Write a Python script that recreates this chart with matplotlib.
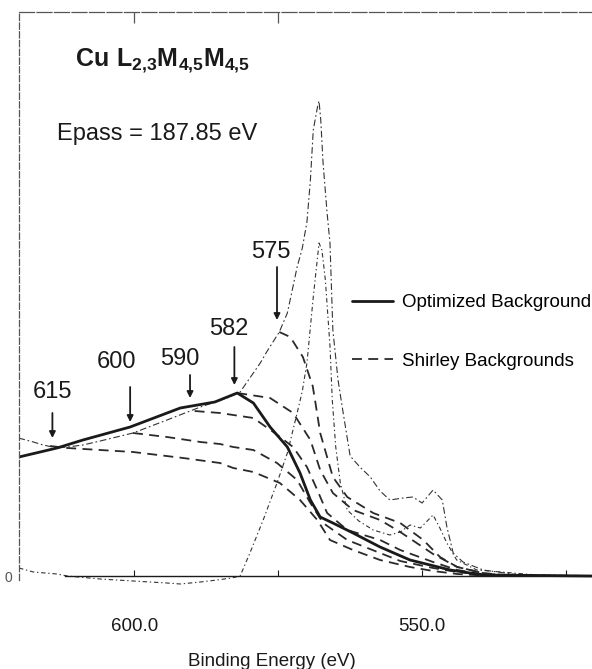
import numpy as np
import matplotlib
matplotlib.use("Agg")
import matplotlib.pyplot as plt

plt.rcParams['font.family'] = ['Liberation Sans', 'DejaVu Sans']
plt.rcParams['mathtext.fontset'] = 'custom'
plt.rcParams['mathtext.rm'] = 'Liberation Sans'
plt.rcParams['mathtext.bf'] = 'Liberation Sans:bold'

# ---------------- data (binding energy in eV, intensity in arb. units) -------------
spec_E = [620.1, 617.5, 615.8, 613.4, 611.6, 608.9, 605.9, 600.2, 594.3, 588.5,
          583.9, 581.6, 578.1, 577.0, 574.8, 573.4, 571.7, 570.8, 570.0, 569.4,
          568.9, 568.2, 567.9, 567.6, 567.2, 566.5, 566.0, 565.5, 564.6, 563.9,
          562.5, 560.8, 559.0, 557.3, 555.6, 553.3, 551.6, 550.0, 548.1, 546.5,
          545.7, 544.6, 542.9, 539.4, 533.0, 520.5]
spec_I = [138, 134, 131, 128, 129, 131, 135, 143, 156, 169,
          178, 184, 213, 224, 244, 263, 309, 328, 354, 396,
          446, 468, 475, 456, 413, 363, 333, 246, 196, 170,
          120, 109, 99, 85, 76, 78, 79, 73, 86, 76,
          49, 23, 14, 6, 1, 0]

sub_E = [620.0, 617.5, 613.4, 611.6, 605.9, 600.2, 594.3, 592.0, 588.5, 585.6,
         583.1, 581.6, 579.9, 577.6, 575.2, 573.4, 571.7, 570.8, 570.0, 568.9,
         567.9, 567.4, 566.8, 566.0, 565.6, 565.0, 564.2, 563.0, 561.0, 558.5,
         555.6, 553.8, 552.1, 550.3, 548.1, 547.0, 545.7, 544.0, 540.5, 530.0, 520.5]
sub_I = [8, 4, 2, 0, -3, -5, -7, -8, -6, -4,
         -2, 0, 23, 56, 93, 123, 163, 185, 213, 279,
         333, 326, 296, 230, 176, 129, 93, 66, 55, 46,
         41, 44, 51, 48, 61, 49, 33, 16, 6, 1, 0]

opt_E = [620.0, 613.4, 608.9, 600.7, 592.0, 586.0, 582.1, 579.3, 576.4, 573.4,
         571.2, 569.4, 567.7, 565.5, 562.0, 557.3, 552.1, 545.1, 539.4, 520.5]
opt_I = [119, 128, 136, 149, 168, 174, 183, 173, 149, 129,
         103, 76, 59, 53, 43, 29, 16, 6, 1, 0]

sh575_E = [574.8, 572.9, 570.7, 569.0, 568.6, 567.7, 565.5, 563.0, 558.5, 553.8,
           549.8, 546.9, 543.9, 539.4, 534.0, 520.5]
sh575_I = [244, 239, 219, 190, 176, 143, 99, 79, 63, 53,
           36, 19, 9, 3, 0, 0]

sh582_E = [582.1, 576.4, 572.4, 569.4, 567.7, 565.5, 562.0, 557.3, 553.8, 548.1,
           543.9, 538.7, 532.0, 520.5]
sh582_I = [183, 178, 163, 136, 106, 83, 66, 56, 44, 22,
           9, 2, 0, 0]

sh590_E = [589.5, 585.1, 582.8, 579.3, 575.6, 572.4, 570.0, 568.2, 566.5, 563.0,
           557.3, 553.8, 548.1, 543.9, 538.7, 532.0, 520.5]
sh590_I = [165, 163, 161, 158, 143, 129, 109, 86, 63, 46,
           36, 26, 14, 6, 1, 0, 0]

sh600_E = [600.2, 594.3, 588.5, 585.1, 582.8, 579.3, 575.2, 571.7, 569.4, 567.2,
           563.0, 557.3, 553.8, 548.1, 543.9, 538.7, 520.5]
sh600_I = [143, 139, 134, 132, 129, 126, 113, 96, 73, 53,
           36, 23, 15, 8, 4, 1, 0]

sh615_E = [614.6, 611.6, 600.2, 591.5, 585.1, 582.8, 579.3, 574.7, 571.2, 568.2,
           566.0, 562.0, 557.3, 552.1, 548.1, 543.9, 538.0, 520.5]
sh615_I = [130, 128, 124, 118, 113, 108, 104, 93, 76, 56,
           36, 26, 16, 9, 5, 2, 0, 0]

start_labels = ['615', '600', '590', '582', '575']
start_E = [614.2, 600.7, 590.3, 582.6, 575.2]

tick_E = [600, 575, 550, 525]
tick_labels = ['600.0', '', '550.0', '']

# ---------------- figure ----------------
W, H = 592, 669
fig = plt.figure(figsize=(W / 100, H / 100), dpi=100)
ax = fig.add_axes([19 / W, 1 - 590 / H, 1 - 19 / W, (590 - 12) / H])
ax.set_xlim(620.0, 520.5)
ax.set_ylim(-14, 564)

ink = '#1a1a1a'
ax.plot(spec_E, spec_I, color='#333333', lw=0.8, ls=(0, (6, 2.5, 1.5, 2.5)))
ax.plot(sub_E, sub_I, color='#333333', lw=0.8, ls=(0, (4, 2.5, 1.2, 2.5)))
sh_lines = []
for e, i in [(sh575_E, sh575_I), (sh582_E, sh582_I), (sh590_E, sh590_I),
             (sh600_E, sh600_I), (sh615_E, sh615_I)]:
    ln, = ax.plot(e, i, color='#2a2a2a', lw=1.3, ls=(0, (5.5, 3.5)))
    sh_lines.append(ln)
opt_line, = ax.plot(opt_E, opt_I, color=ink, lw=2.0, solid_capstyle='round')

# baseline and small ticks on it
ax.axhline(0, xmin=0.08, color=ink, lw=1.0)
ax.vlines(tick_E, 0, 6, color=ink, lw=0.8)

# arrows marking starting energies
layout = {  # tail, tip, label x, label y
    '615': (163, 138, 614.2, 184),
    '600': (189, 154, 603.0, 214),
    '590': (201, 178, 592.0, 217),
    '582': (229, 191, 583.5, 247),
    '575': (309, 256, 576.3, 324),
}
for lab, e in zip(start_labels, start_E):
    tail, tip, lx, ly = layout[lab]
    ax.annotate('', xy=(e, tip), xytext=(e, tail),
                arrowprops=dict(arrowstyle='-|>', color=ink, lw=1.3,
                                mutation_scale=9, shrinkA=0, shrinkB=0))
    ax.text(lx, ly, lab, ha='center', va='center', fontsize=17, color=ink)

# axes styling
for s in ['right', 'bottom']:
    ax.spines[s].set_visible(False)
ax.spines['left'].set_linestyle((0, (5, 2)))
ax.spines['left'].set_color('#555555')
ax.spines['left'].set_linewidth(0.9)
ax.spines['left'].set_bounds(-4, 564)
ax.spines['top'].set_linestyle((0, (12, 2)))
ax.spines['top'].set_color('#555555')
ax.spines['top'].set_linewidth(0.9)
ax.set_xticks(tick_E)
ax.set_xticklabels(tick_labels, fontsize=13.5, color=ink)
ax.tick_params(axis='x', bottom=True, top=False, direction='in', length=0,
               pad=20)
ax.set_yticks([0])
ax.set_yticklabels(['0'], fontsize=10, color='#555555')
ax.tick_params(axis='y', length=0, pad=5)
# top ticks
sec = ax.secondary_xaxis('top')
sec.set_xticks([600, 575])
sec.set_xticklabels([])
sec.tick_params(direction='in', length=8, width=0.9, color='#555555')
sec.spines['top'].set_visible(False)

fig.text(272 / W, 1 - 662 / H, 'Binding Energy (eV)', ha='center', va='center',
         fontsize=13.5, color=ink)
fig.text(75 / W, 1 - 66 / H, r'$\mathbf{Cu\ L_{2{,}3}M_{4{,}5}M_{4{,}5}}$',
         ha='left', va='baseline', fontsize=18, color=ink)
fig.text(57 / W, 1 - 140 / H, 'Epass = 187.85 eV', ha='left', va='baseline',
         fontsize=17, color=ink)

ax.legend([opt_line, sh_lines[0]], ['Optimized Background', 'Shirley Backgrounds'],
          loc='center left', bbox_to_anchor=(352 / W, 1 - 332 / H),
          bbox_transform=fig.transFigure, frameon=False, fontsize=13.5,
          handlelength=2.2, handletextpad=0.45, labelspacing=2.2,
          borderpad=0, borderaxespad=0)

fig.savefig('out.png', dpi=100, facecolor='white')
